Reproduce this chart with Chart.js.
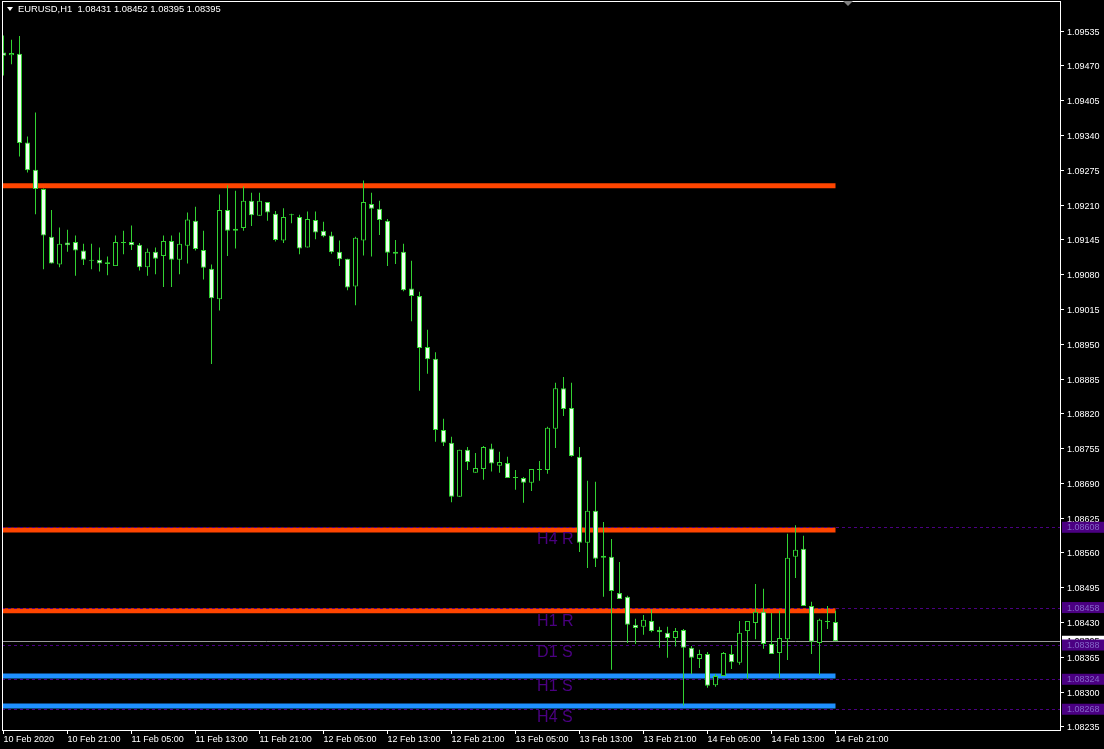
<!DOCTYPE html>
<html>
<head>
<meta charset="utf-8">
<title>EURUSD,H1</title>
<script src="https://cdn.jsdelivr.net/npm/chart.js@4.4.0/dist/chart.umd.min.js"></script>
<style>
  html, body { margin: 0; padding: 0; background: #000; }
  canvas { display: block; }
</style>
</head>
<body>
<canvas id="chart" width="1104" height="749"></canvas>
<script>
// EURUSD H1, one candle per hour from 10 Feb 13:00 to 14 Feb 21:00
const opens = [
  1.09495, 1.09490, 1.09493, 1.09327, 1.09276, 1.09240, 1.09151, 1.09099, 1.09140, 1.09141,
  1.09125, 1.09108, 1.09108, 1.09103, 1.09096, 1.09141, 1.09141, 1.09136, 1.09094, 1.09123,
  1.09115, 1.09143, 1.09108, 1.09134, 1.09181, 1.09126, 1.09091, 1.09034, 1.09201, 1.09162,
  1.09167, 1.09218, 1.09190, 1.09216, 1.09194, 1.09144, 1.09193, 1.09188, 1.09131, 1.09182,
  1.09162, 1.09153, 1.09123, 1.09110, 1.09058, 1.09144, 1.09212, 1.09203, 1.09181, 1.09119,
  1.09123, 1.09054, 1.09040, 1.08945, 1.08923, 1.08790, 1.08766, 1.08665, 1.08753, 1.08710,
  1.08717, 1.08755, 1.08723, 1.08728, 1.08702, 1.08700, 1.08691, 1.08717, 1.08715, 1.08792,
  1.08868, 1.08831, 1.08740, 1.08579, 1.08639, 1.08551, 1.08553, 1.08485, 1.08478, 1.08426,
  1.08422, 1.08433, 1.08416, 1.08411, 1.08401, 1.08416, 1.08383, 1.08362, 1.08371, 1.08313,
  1.08330, 1.08371, 1.08355, 1.08414, 1.08429, 1.08450, 1.08390, 1.08373, 1.08399, 1.08553,
  1.08568, 1.08461, 1.08392, 1.08433, 1.08431
];
const highs = [
  1.09527, 1.09519, 1.09526, 1.09338, 1.09383, 1.09241, 1.09201, 1.09168, 1.09164, 1.09153,
  1.09138, 1.09138, 1.09131, 1.09114, 1.09153, 1.09162, 1.09172, 1.09139, 1.09129, 1.09131,
  1.09153, 1.09153, 1.09159, 1.09196, 1.09207, 1.09162, 1.09099, 1.09230, 1.09247, 1.09237,
  1.09245, 1.09233, 1.09233, 1.09216, 1.09199, 1.09204, 1.09194, 1.09192, 1.09198, 1.09198,
  1.09179, 1.09160, 1.09144, 1.09110, 1.09151, 1.09256, 1.09233, 1.09218, 1.09184, 1.09145,
  1.09138, 1.09106, 1.09048, 1.08977, 1.08935, 1.08811, 1.08777, 1.08753, 1.08758, 1.08747,
  1.08760, 1.08764, 1.08749, 1.08740, 1.08715, 1.08702, 1.08717, 1.08732, 1.08796, 1.08878,
  1.08889, 1.08878, 1.08758, 1.08695, 1.08693, 1.08618, 1.08586, 1.08543, 1.08480, 1.08437,
  1.08444, 1.08455, 1.08422, 1.08422, 1.08420, 1.08418, 1.08386, 1.08379, 1.08375, 1.08334,
  1.08375, 1.08388, 1.08433, 1.08433, 1.08502, 1.08493, 1.08448, 1.08452, 1.08596, 1.08612,
  1.08592, 1.08469, 1.08437, 1.08461, 1.08452
];
const lows = [
  1.09452, 1.09473, 1.09301, 1.09271, 1.09193, 1.09090, 1.09101, 1.09094, 1.09123, 1.09078,
  1.09098, 1.09090, 1.09086, 1.09079, 1.09096, 1.09118, 1.09126, 1.09088, 1.09078, 1.09081,
  1.09057, 1.09057, 1.09081, 1.09101, 1.09125, 1.09071, 1.08913, 1.09013, 1.09115, 1.09129,
  1.09162, 1.09171, 1.09190, 1.09181, 1.09142, 1.09139, 1.09176, 1.09118, 1.09131, 1.09146,
  1.09150, 1.09119, 1.09096, 1.09051, 1.09023, 1.09116, 1.09114, 1.09154, 1.09096, 1.09100,
  1.09049, 1.08993, 1.08863, 1.08895, 1.08768, 1.08760, 1.08655, 1.08665, 1.08715, 1.08710,
  1.08697, 1.08712, 1.08710, 1.08700, 1.08678, 1.08654, 1.08676, 1.08695, 1.08708, 1.08756,
  1.08816, 1.08740, 1.08562, 1.08532, 1.08534, 1.08478, 1.08342, 1.08474, 1.08392, 1.08390,
  1.08407, 1.08412, 1.08383, 1.08364, 1.08385, 1.08275, 1.08334, 1.08345, 1.08308, 1.08310,
  1.08330, 1.08343, 1.08351, 1.08325, 1.08399, 1.08381, 1.08371, 1.08327, 1.08360, 1.08513,
  1.08461, 1.08371, 1.08332, 1.08418, 1.08395
];
const closes = [
  1.09489, 1.09494, 1.09326, 1.09275, 1.09240, 1.09153, 1.09101, 1.09138, 1.09135, 1.09125,
  1.09108, 1.09106, 1.09101, 1.09100, 1.09141, 1.09139, 1.09135, 1.09094, 1.09123, 1.09110,
  1.09143, 1.09108, 1.09138, 1.09183, 1.09128, 1.09093, 1.09036, 1.09201, 1.09162, 1.09166,
  1.09218, 1.09191, 1.09218, 1.09196, 1.09145, 1.09188, 1.09191, 1.09129, 1.09184, 1.09159,
  1.09152, 1.09122, 1.09109, 1.09056, 1.09149, 1.09216, 1.09203, 1.09182, 1.09121, 1.09123,
  1.09051, 1.09040, 1.08943, 1.08922, 1.08790, 1.08766, 1.08665, 1.08753, 1.08730, 1.08719,
  1.08758, 1.08727, 1.08730, 1.08700, 1.08700, 1.08691, 1.08717, 1.08715, 1.08794, 1.08868,
  1.08829, 1.08741, 1.08579, 1.08639, 1.08549, 1.08555, 1.08489, 1.08474, 1.08426, 1.08420,
  1.08435, 1.08414, 1.08412, 1.08401, 1.08414, 1.08383, 1.08364, 1.08371, 1.08312, 1.08330,
  1.08373, 1.08356, 1.08411, 1.08433, 1.08450, 1.08390, 1.08371, 1.08401, 1.08551, 1.08566,
  1.08461, 1.08394, 1.08435, 1.08431, 1.08395
];

// time axis: a label every 8 bars
const xTickIdx = [0, 8, 16, 24, 32, 40, 48, 56, 64, 72, 80, 88, 96, 104];
const xTickLabels = [
  '10 Feb 2020', '10 Feb 21:00', '11 Feb 05:00', '11 Feb 13:00', '11 Feb 21:00',
  '12 Feb 05:00', '12 Feb 13:00', '12 Feb 21:00', '13 Feb 05:00', '13 Feb 13:00',
  '13 Feb 21:00', '14 Feb 05:00', '14 Feb 13:00', '14 Feb 21:00'
];
const yTicks = [
  1.09535, 1.09470, 1.09405, 1.09340, 1.09275, 1.09210, 1.09145, 1.09080, 1.09015, 1.08950,
  1.08885, 1.08820, 1.08755, 1.08690, 1.08625, 1.08560, 1.08495, 1.08430, 1.08365, 1.08300,
  1.08235
];

// drawn objects
const resistLevels = [1.09246, 1.08603, 1.08452];   // orange
const supportLevels = [1.08330, 1.08274];           // blue
const zoneLevels = [1.08608, 1.08458, 1.08388, 1.08324, 1.08268];
const zoneNames = ['H4 R', 'H1 R', 'D1 S', 'H1 S', 'H4 S'];
const zoneTextPrices = [1.08577, 1.08424, 1.08365, 1.08303, 1.08245];
const bid = 1.08395;

const GREEN = '#32d232';
const FONT = "'Liberation Sans', Arial, sans-serif";

const mtOverlay = {
  id: 'mtOverlay',
  beforeDraw(chart) {
    const c = chart.ctx;
    c.save();
    c.fillStyle = '#000';
    c.fillRect(0, 0, chart.width, chart.height);
    c.restore();
  },
  beforeDatasetsDraw(chart) {
    const { ctx: c, chartArea: a, scales: { x, y } } = chart;
    const xEnd = x.getPixelForValue(closes.length - 1);
    c.save();
    c.beginPath();
    c.rect(a.left, a.top, a.right - a.left, a.bottom - a.top);
    c.clip();

    c.lineWidth = 5;
    c.strokeStyle = '#ff4500';
    resistLevels.forEach(p => {
      const py = y.getPixelForValue(p);
      c.beginPath(); c.moveTo(a.left, py); c.lineTo(xEnd, py); c.stroke();
    });
    c.strokeStyle = '#1e90ff';
    supportLevels.forEach(p => {
      const py = y.getPixelForValue(p);
      c.beginPath(); c.moveTo(a.left, py); c.lineTo(xEnd, py); c.stroke();
    });

    // bid line
    c.lineWidth = 1;
    c.strokeStyle = '#9a9a9a';
    const by = Math.round(y.getPixelForValue(bid)) + 0.5;
    c.beginPath(); c.moveTo(a.left, by); c.lineTo(a.right, by); c.stroke();

    // dashed zone lines
    c.setLineDash([3, 3]);
    c.strokeStyle = '#4b0082';
    zoneLevels.forEach(p => {
      const py = Math.round(y.getPixelForValue(p)) + 0.5;
      c.beginPath(); c.moveTo(a.left, py); c.lineTo(a.right, py); c.stroke();
    });
    c.restore();
  },
  afterDatasetsDraw(chart) {
    const { ctx: c, scales: { x, y } } = chart;
    c.save();
    c.font = '16px ' + FONT;
    c.fillStyle = '#4b0082';
    c.textBaseline = 'alphabetic';
    const tx = x.getPixelForValue(66.7);
    zoneNames.forEach((n, i) => c.fillText(n, tx, y.getPixelForValue(zoneTextPrices[i])));
    c.restore();
  },
  afterDraw(chart) {
    const { ctx: c, chartArea: a, scales: { y } } = chart;
    const last = closes.length - 1;
    c.save();

    // frame
    c.strokeStyle = '#fff';
    c.lineWidth = 1;
    c.strokeRect(a.left + 0.5, a.top + 0.5, a.right - a.left, a.bottom - a.top);

    // price tags on the axis
    c.font = '9px ' + FONT;
    c.textBaseline = 'middle';
    const tagX = a.right + 2;
    const tagW = chart.width - tagX;
    const byy = y.getPixelForValue(bid);
    c.fillStyle = '#fff';
    c.fillRect(tagX, byy - 5.5, tagW, 11);
    c.fillStyle = '#000';
    c.fillText(bid.toFixed(5), a.right + 7, byy);
    zoneLevels.forEach(p => {
      const py = y.getPixelForValue(p);
      c.fillStyle = '#4b0082';
      c.fillRect(tagX, py - 5.5, tagW, 11);
      c.fillStyle = '#8466c8';
      c.fillText(p.toFixed(5), a.right + 7, py + 0.5);
    });

    // header
    c.fillStyle = '#fff';
    c.beginPath(); c.moveTo(7, 7); c.lineTo(13, 7); c.lineTo(10, 11); c.closePath(); c.fill();
    c.font = '9.4px ' + FONT;
    const head = 'EURUSD,H1  ' + [opens[last], highs[last], lows[last], closes[last]].map(v => v.toFixed(5)).join(' ');
    c.fillText(head, 18, 9.5);

    // chart shift marker
    c.fillStyle = '#808080';
    c.beginPath(); c.moveTo(843, 1); c.lineTo(853, 1); c.lineTo(848, 6); c.closePath(); c.fill();
    c.restore();
  }
};

new Chart(document.getElementById('chart'), {
  type: 'bar',
  data: {
    datasets: [
      {
        label: 'body',
        data: opens.map((o, i) => ({ x: i, y: [o, closes[i]] })),
        grouped: false,
        barThickness: 5,
        borderWidth: 1,
        borderColor: GREEN,
        borderSkipped: false,
        inflateAmount: 0,
        minBarLength: 1,
        backgroundColor: ctx => closes[ctx.dataIndex] < opens[ctx.dataIndex] ? '#eeffee' : '#000000',
        order: 0
      },
      {
        label: 'wick',
        data: lows.map((l, i) => ({ x: i, y: [l, highs[i]] })),
        grouped: false,
        barThickness: 1,
        backgroundColor: GREEN,
        borderWidth: 0,
        inflateAmount: 0,
        order: 1
      }
    ]
  },
  options: {
    responsive: false,
    animation: false,
    devicePixelRatio: 1,
    layout: { padding: { left: 2, top: 1, right: 0, bottom: 0 } },
    plugins: { legend: { display: false }, tooltip: { enabled: false } },
    scales: {
      x: {
        type: 'linear',
        offset: false,
        min: -0.1875,
        max: 132.0625,
        afterFit: s => { s.height = 19; s.paddingLeft = 0; s.paddingRight = 0; },
        afterBuildTicks: s => { s.ticks = xTickIdx.map(v => ({ value: v })); },
        grid: { drawOnChartArea: false, tickLength: 4, color: '#fff', offset: false },
        border: { display: false },
        ticks: {
          autoSkip: false, maxRotation: 0, align: 'start', padding: 0,
          color: '#fff', font: { family: FONT, size: 9 },
          callback: (v, i) => xTickLabels[i]
        }
      },
      y: {
        position: 'right',
        min: 1.082292,
        max: 1.095914,
        afterFit: s => { s.width = 44; s.paddingTop = 0; s.paddingBottom = 0; },
        afterBuildTicks: s => { s.ticks = yTicks.map(v => ({ value: v })); },
        grid: { drawOnChartArea: false, tickLength: 4, color: '#fff' },
        border: { display: false },
        ticks: {
          autoSkip: false, padding: 3, labelOffset: 1,
          color: '#fff', font: { family: FONT, size: 9 },
          callback: v => v.toFixed(5)
        }
      }
    }
  },
  plugins: [mtOverlay]
});
</script>
</body>
</html>
